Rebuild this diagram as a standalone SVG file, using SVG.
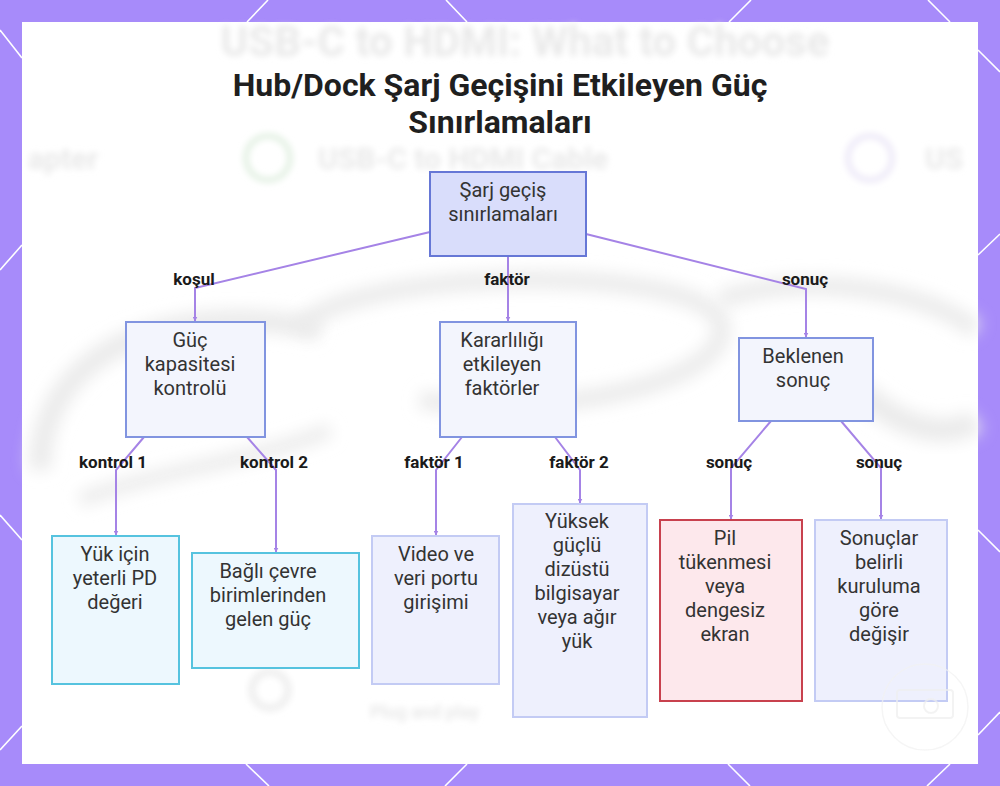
<svg xmlns="http://www.w3.org/2000/svg" width="1000" height="786" viewBox="0 0 1000 786">
<defs>
<style>
.title{font-family:Roboto,"Liberation Sans",sans-serif;font-weight:700;font-size:32px;fill:#1f1f1f;text-anchor:middle}
.nt{font-family:Roboto,"Liberation Sans",sans-serif;font-size:20px;fill:#333333;text-anchor:middle}
.lbl{font-family:Roboto,"Liberation Sans",sans-serif;font-weight:700;font-size:17px;fill:#1a1a1a;text-anchor:middle}
.bgt{font-family:Roboto,"Liberation Sans",sans-serif;font-weight:700;fill:#e9e9e9;filter:url(#blur3)}
.hex{stroke:#ffffff;stroke-width:1.6;fill:none}
.root{fill:#d9ddfb;stroke:#6677d6;stroke-width:2}
.mid{fill:#f3f5fd;stroke:#8194e0;stroke-width:2}
.cyan{fill:#edf8fe;stroke:#56c3df;stroke-width:2}
.lav{fill:#eef0fd;stroke:#c3cbf4;stroke-width:2}
.red{fill:#fde8ec;stroke:#c8414e;stroke-width:2}
.edge{fill:none;stroke:#a583e6;stroke-width:2;marker-end:url(#arr)}
.swirl{fill:none;stroke:#ebebeb;filter:url(#blur8)}
</style>
<filter id="blur3" x="-20%" y="-50%" width="140%" height="200%"><feGaussianBlur stdDeviation="3"/></filter>
<filter id="blur8" x="-30%" y="-60%" width="160%" height="220%"><feGaussianBlur stdDeviation="8"/></filter>
<marker id="arr" viewBox="0 0 10 10" refX="9" refY="5" markerWidth="5" markerHeight="5" orient="auto" markerUnits="userSpaceOnUse">
<path d="M0,0 L10,5 L0,10 z" fill="#a583e6"/>
</marker>
</defs>

<!-- frame -->
<rect x="0" y="0" width="1000" height="786" fill="#a78bfa"/>
<g id="frame-lines">
<line class="hex" x1="0" y1="30" x2="22" y2="58"/>
<line class="hex" x1="0" y1="270" x2="22" y2="245"/>
<line class="hex" x1="0" y1="515" x2="22" y2="540"/>
<line class="hex" x1="0" y1="750" x2="22" y2="726"/>
<line class="hex" x1="978" y1="50" x2="1000" y2="72"/>
<line class="hex" x1="978" y1="255" x2="1000" y2="234"/>
<line class="hex" x1="978" y1="530" x2="1000" y2="552"/>
<line class="hex" x1="978" y1="735" x2="1000" y2="712"/>
<line class="hex" x1="247" y1="22" x2="268" y2="0"/>
<line class="hex" x1="446" y1="0" x2="467" y2="22"/>
<line class="hex" x1="729" y1="22" x2="751" y2="0"/>
<line class="hex" x1="928" y1="0" x2="950" y2="22"/>
<line class="hex" x1="246" y1="764" x2="269" y2="786"/>
<line class="hex" x1="467" y1="764" x2="445" y2="786"/>
<line class="hex" x1="728" y1="764" x2="750" y2="786"/>
<line class="hex" x1="950" y1="764" x2="927" y2="786"/>
</g>
<rect x="22" y="22" width="956" height="742" fill="#ffffff"/>

<!-- blurred background picture -->
<g id="background">
<text class="bgt" x="525" y="56" font-size="42" text-anchor="middle">USB-C to HDMI: What to Choose</text>
<text class="bgt" x="28" y="169" font-size="30">apter</text>
<circle cx="268" cy="158" r="22" fill="none" stroke="#e4f1e4" stroke-width="6" filter="url(#blur3)"/>
<text class="bgt" x="318" y="169" font-size="30">USB-C to HDMI Cable</text>
<circle cx="870" cy="158" r="22" fill="none" stroke="#eeeaf8" stroke-width="6" filter="url(#blur3)"/>
<text class="bgt" x="925" y="169" font-size="30">US</text>
<path class="swirl" stroke-width="22" d="M40 470 C40 340 190 300 320 330"/>
<path class="swirl" stroke-width="18" d="M300 330 C330 270 690 260 720 320 C740 380 560 420 420 400"/>
<path class="swirl" stroke-width="18" d="M720 300 C800 270 930 290 975 330"/>
<path class="swirl" stroke-width="24" d="M860 390 C900 430 950 440 975 420"/>
<path class="swirl" stroke-width="14" d="M80 500 C160 470 260 460 330 430"/>
<circle cx="270" cy="690" r="18" fill="none" stroke="#f0f0f0" stroke-width="8" filter="url(#blur3)"/>
<text class="bgt" x="370" y="718" font-size="18" fill="#ececec">Plug and play</text>
</g>

<!-- connectors -->
<g id="connectors">
<polyline class="edge" points="430,232 195,288 195,321"/>
<polyline class="edge" points="508,256 508,321"/>
<polyline class="edge" points="586,234 806,289 806,337"/>
<polyline class="edge" points="144,437 116,470 116,535"/>
<polyline class="edge" points="247,437 276,470 276,552"/>
<polyline class="edge" points="462,437 436,470 436,535"/>
<polyline class="edge" points="555,437 580,470 580,503"/>
<polyline class="edge" points="771,421 731,468 731,519"/>
<polyline class="edge" points="841,421 881,468 881,519"/>
</g>

<!-- edge labels -->
<g id="edge-labels">
<text class="lbl" x="194" y="285">koşul</text>
<text class="lbl" x="507" y="285">faktör</text>
<text class="lbl" x="805" y="285">sonuç</text>
<text class="lbl" x="113" y="468">kontrol 1</text>
<text class="lbl" x="274" y="468">kontrol 2</text>
<text class="lbl" x="434" y="468">faktör 1</text>
<text class="lbl" x="579" y="468">faktör 2</text>
<text class="lbl" x="729" y="468">sonuç</text>
<text class="lbl" x="879" y="468">sonuç</text>
</g>

<!-- title -->
<g id="title">
<text class="title" x="500" y="96">Hub/Dock Şarj Geçişini Etkileyen Güç</text>
<text class="title" x="500" y="133">Sınırlamaları</text>
</g>

<!-- nodes -->
<g id="node-root">
<rect class="root" x="430" y="172" width="156" height="84"/>
<text class="nt" x="503" y="197">Şarj geçiş</text>
<text class="nt" x="503" y="221">sınırlamaları</text>
</g>
<g id="node-guc">
<rect class="mid" x="126" y="322" width="139" height="115"/>
<text class="nt" x="190" y="347">Güç</text>
<text class="nt" x="190" y="371">kapasitesi</text>
<text class="nt" x="190" y="395">kontrolü</text>
</g>
<g id="node-kararlilik">
<rect class="mid" x="440" y="322" width="136" height="115"/>
<text class="nt" x="502" y="347">Kararlılığı</text>
<text class="nt" x="502" y="371">etkileyen</text>
<text class="nt" x="502" y="395">faktörler</text>
</g>
<g id="node-beklenen">
<rect class="mid" x="739" y="338" width="134" height="83"/>
<text class="nt" x="803" y="363">Beklenen</text>
<text class="nt" x="803" y="387">sonuç</text>
</g>
<g id="node-yuk">
<rect class="cyan" x="52" y="536" width="127" height="148"/>
<text class="nt" x="115" y="561">Yük için</text>
<text class="nt" x="115" y="585">yeterli PD</text>
<text class="nt" x="115" y="609">değeri</text>
</g>
<g id="node-bagli">
<rect class="cyan" x="192" y="553" width="167" height="115"/>
<text class="nt" x="268" y="578">Bağlı çevre</text>
<text class="nt" x="268" y="602">birimlerinden</text>
<text class="nt" x="268" y="626">gelen güç</text>
</g>
<g id="node-video">
<rect class="lav" x="372" y="536" width="127" height="148"/>
<text class="nt" x="436" y="561">Video ve</text>
<text class="nt" x="436" y="585">veri portu</text>
<text class="nt" x="436" y="609">girişimi</text>
</g>
<g id="node-yuksek">
<rect class="lav" x="513" y="504" width="134" height="213"/>
<text class="nt" x="577" y="528">Yüksek</text>
<text class="nt" x="577" y="552">güçlü</text>
<text class="nt" x="577" y="576">dizüstü</text>
<text class="nt" x="577" y="600">bilgisayar</text>
<text class="nt" x="577" y="624">veya ağır</text>
<text class="nt" x="577" y="648">yük</text>
</g>
<g id="node-pil">
<rect class="red" x="660" y="520" width="142" height="181"/>
<text class="nt" x="725" y="545">Pil</text>
<text class="nt" x="725" y="569">tükenmesi</text>
<text class="nt" x="725" y="593">veya</text>
<text class="nt" x="725" y="617">dengesiz</text>
<text class="nt" x="725" y="641">ekran</text>
</g>
<g id="node-sonuclar">
<rect class="lav" x="815" y="520" width="132" height="181"/>
<text class="nt" x="879" y="545">Sonuçlar</text>
<text class="nt" x="879" y="569">belirli</text>
<text class="nt" x="879" y="593">kuruluma</text>
<text class="nt" x="879" y="617">göre</text>
<text class="nt" x="879" y="641">değişir</text>
</g>

<!-- watermark -->
<g id="watermark" opacity="0.7">
<circle cx="925" cy="707" r="43" fill="none" stroke="#f2f2f2" stroke-width="1.5"/>
<rect x="897" y="690" width="56" height="28" rx="3" fill="none" stroke="#efefef" stroke-width="2"/>
<circle cx="931" cy="706" r="7" fill="none" stroke="#efefef" stroke-width="2"/>
</g>
</svg>
